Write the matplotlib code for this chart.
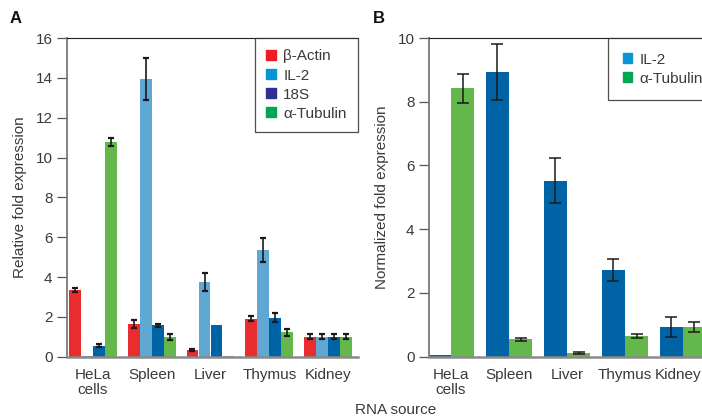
import matplotlib
matplotlib.use('Agg')
from matplotlib import pyplot as plt
from matplotlib.patches import Patch
from matplotlib.transforms import offset_copy
import numpy as np

plt.rcParams['font.family'] = ['Liberation Sans', 'DejaVu Sans']

# data
sources = ['HeLa\ncells', 'Spleen', 'Liver', 'Thymus', 'Kidney']

# panel A: relative fold expression
genes_a = ['β-Actin', 'IL-2', '18S', 'α-Tubulin']
actin = [3.35, 1.64, 0.35, 1.90, 1.00]
actin_err = [0.08, 0.18, 0.06, 0.12, 0.13]
il2 = [0.05, 13.95, 3.75, 5.35, 1.00]
il2_err = [0.0, 1.05, 0.45, 0.62, 0.13]
s18 = [0.55, 1.58, 1.60, 1.95, 1.00]
s18_err = [0.07, 0.08, 0.0, 0.22, 0.12]
tub = [10.78, 1.00, 0.06, 1.22, 1.00]
tub_err = [0.22, 0.16, 0.0, 0.16, 0.12]

# panel B: normalized fold expression
genes_b = ['IL-2', 'α-Tubulin']
il2_n = [0.04, 8.92, 5.52, 2.72, 0.93]
il2_n_err = [0.0, 0.88, 0.70, 0.35, 0.32]
tub_n = [8.42, 0.55, 0.11, 0.64, 0.93]
tub_n_err = [0.46, 0.05, 0.03, 0.06, 0.15]

bar_cols_a = ['#e92d2f', '#5fa8d3', '#0063a6', '#63b74b']
leg_cols_a = ['#ed1c24', '#0a93d6', '#2e3192', '#00a651']
bar_cols_b = ['#0063a6', '#63b74b']
leg_cols_b = ['#0a93d6', '#00a651']

txt = '#3a3a3a'
W, H = 702, 419
fig = plt.figure(figsize=(W/100, H/100), dpi=100)

def px(l, b, r, t):
    return [l/W, 1-b/H, (r-l)/W, (b-t)/H]

def style(ax):
    ax.spines['right'].set_visible(False)
    ax.spines['top'].set_color('#222222')
    ax.spines['top'].set_linewidth(0.8)
    ax.spines['left'].set_color('#7a7a7a')
    ax.spines['left'].set_linewidth(1.3)
    ax.spines['bottom'].set_color('#8a8a8a')
    ax.spines['bottom'].set_linewidth(1.8)
    ax.tick_params(axis='y', direction='out', length=7.5, width=0.9,
                   color='#555555', labelsize=11, labelcolor=txt, pad=3)
    ax.tick_params(axis='x', length=0, labelsize=11, labelcolor=txt, pad=8)
    for lab in ax.get_xticklabels():
        lab.set_linespacing(1.1)

def legend(ax, cols, labels, pad, **kw):
    hs = [Patch(color=c) for c in cols]
    leg = ax.legend(hs, labels, fontsize=11, frameon=True, fancybox=False,
                    handlelength=0.6, handleheight=0.6, handletextpad=0.5,
                    labelspacing=0.33, borderpad=pad, borderaxespad=0, **kw)
    leg.get_frame().set_edgecolor('#222222')
    leg.get_frame().set_linewidth(0.9)
    for t in leg.get_texts():
        t.set_color(txt)
    return leg

x = np.arange(len(sources))

# ---- panel A
axA = fig.add_axes(px(67, 356.7, 358, 38))
series = [actin, il2, s18, tub]
errs = [actin_err, il2_err, s18_err, tub_err]
w = 0.2
for i, (vals, e) in enumerate(zip(series, errs)):
    off = (i - 1.5) * 0.205
    axA.bar(x + off, vals, w, color=bar_cols_a[i], zorder=2)
    ee = np.array(e)
    m = ee > 0
    axA.errorbar((x + off)[m], np.array(vals)[m], yerr=ee[m], fmt='none',
                 ecolor='#1a1a1a', elinewidth=1.2, capsize=2.3, capthick=1.6, zorder=3)
axA.set_xlim(-0.443, 4.51)
axA.set_ylim(0, 16)
axA.set_yticks(range(0, 17, 2))
axA.set_xticks(x)
axA.set_xticklabels(sources)
style(axA)
axA.set_ylabel('Relative fold expression', fontsize=11, color=txt, labelpad=6)
legend(axA, leg_cols_a, genes_a, 0.75, loc='upper right', bbox_to_anchor=(1.0, 1.0))

# ---- panel B
axB = fig.add_axes(px(429, 356.7, 720, 38))
wb = 0.4
for i, (vals, e) in enumerate(zip([il2_n, tub_n], [il2_n_err, tub_n_err])):
    off = (i - 0.5) * wb
    axB.bar(x + off, vals, wb, color=bar_cols_b[i], zorder=2)
    ee = np.array(e)
    m = ee > 0
    axB.errorbar((x + off)[m], np.array(vals)[m], yerr=ee[m], fmt='none',
                 ecolor='#1a1a1a', elinewidth=1.1, capsize=4.0, capthick=1.1, zorder=3)
axB.set_xlim(-0.38, 4.64)
axB.set_ylim(0, 10)
axB.set_yticks(range(0, 11, 2))
axB.set_xticks(x)
axB.set_xticklabels(sources)
style(axB)
# nudge the last label so it stays inside the picture
kid = axB.get_xticklabels()[-1]
kid.set_transform(offset_copy(kid.get_transform(), fig=fig, x=-5, y=0, units='dots'))
axB.set_ylabel('Normalized fold expression', fontsize=11, color=txt, labelpad=6)
legend(axB, leg_cols_b, genes_b, 0.95, loc='upper left',
       bbox_to_anchor=(608/W, 1-38/H), bbox_transform=fig.transFigure)

# panel letters and shared x label
fig.text(10/W, 1-11/H, 'A', fontsize=12, fontweight='bold', va='top', color='#111111')
fig.text(373/W, 1-11/H, 'B', fontsize=12, fontweight='bold', va='top', color='#111111')
fig.text(396/W, 1-417/H, 'RNA source', fontsize=11, ha='center', va='bottom', color=txt)

fig.savefig('out.png', dpi=100)
